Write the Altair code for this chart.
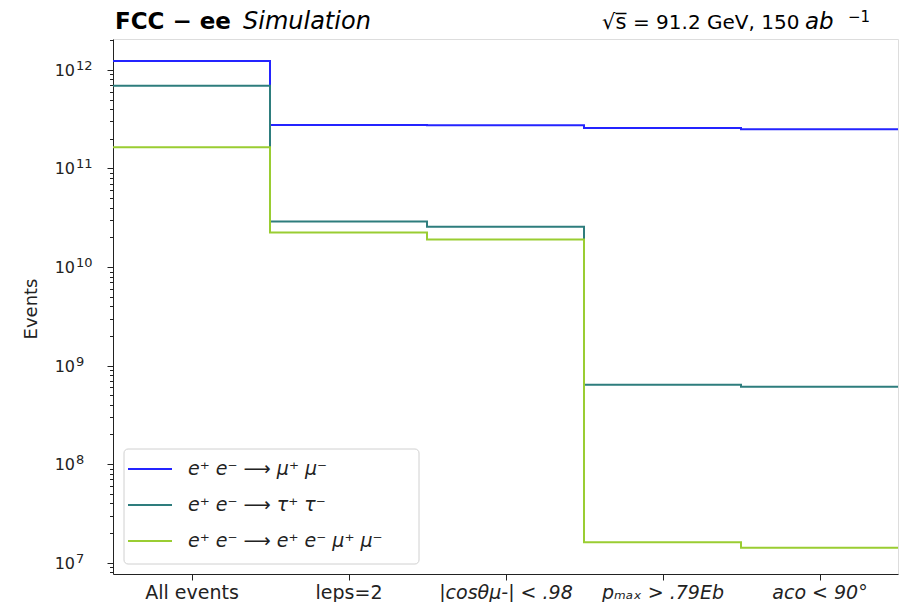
import altair as alt
import pandas as pd

# ---- data ----
cuts = ["All events", "leps=2", "|cosθμ-| < .98", "pₘₐₓ > .79Eb", "aco < 90°"]
series = ["e⁺ e⁻  ⟶  μ⁺ μ⁻", "e⁺ e⁻  ⟶  τ⁺ τ⁻", "e⁺ e⁻  ⟶  e⁺ e⁻ μ⁺ μ⁻"]
colors = ["#2424ff", "#2e7d7d", "#9acd32"]
mumu = [1.23e12, 2.77e11, 2.75e11, 2.58e11, 2.50e11]
tautau = [6.9e11, 2.9e10, 2.56e10, 6.4e8, 6.1e8]
eemumu = [1.64e11, 2.24e10, 1.9e10, 1.61e7, 1.42e7]
y_major = [1e7, 1e8, 1e9, 1e10, 1e11, 1e12]
y_exponents = ["7", "8", "9", "10", "11", "12"]

values = [mumu, tautau, eemumu]
rows = []
for name, vals in zip(series, values):
    for i, v in enumerate(vals):
        rows.append({"series": name, "x": i, "events": v})
    rows.append({"series": name, "x": len(vals), "events": vals[-1]})
df = pd.DataFrame(rows)
ylab = pd.DataFrame({"v": y_major, "base": ["10"] * len(y_major), "exp": y_exponents})

ymin, ymax = 7.68e6, 2.06e12
yticks = []
for e in range(6, 13):
    for k in range(1, 10):
        t = k * 10 ** e
        if ymin <= t <= ymax:
            yticks.append(t)

W, H = 785, 535
FONT = "DejaVu Sans"
INK = "#222222"

is_major = "abs(log(datum.value)/LN10 - round(log(datum.value)/LN10)) < 1e-6"
cut_arr = "[" + ",".join("'%s'" % s for s in cuts) + "]"

xscale = alt.Scale(domain=[0, 5], nice=False, zero=False)
yscale = alt.Scale(type="log", domain=[ymin, ymax], nice=False)

lines = alt.Chart(df).mark_line(interpolate="step-after", strokeWidth=2, clip=True).encode(
    x=alt.X("x:Q", scale=xscale,
            axis=alt.Axis(values=[0.5, 1.5, 2.5, 3.5, 4.5],
                          labelExpr=cut_arr + "[round(datum.value - 0.5)]",
                          labelFontStyle={"condition": {"test": "datum.value > 2", "value": "italic"}, "value": "normal"},
                          title=None, grid=False, labelFontSize=19, labelFont=FONT,
                          labelColor=INK, tickColor=INK, tickSize=6, labelPadding=3,
                          domainColor=INK, labelAngle=0)),
    y=alt.Y("events:Q", scale=yscale,
            axis=alt.Axis(values=yticks, labels=False,
                          tickSize={"condition": {"test": is_major, "value": 6}, "value": 3.5},
                          title="Events", titleFont=FONT, titleFontSize=18, titleFontWeight="normal",
                          titleColor=INK, titleX=-82, titleY=269.5, titleBaseline="middle",
                          titleAlign="center", grid=False,
                          tickColor=INK, domainColor=INK)),
    color=alt.Color("series:N", scale=alt.Scale(domain=series, range=colors), legend=None),
    order="x:Q",
)

# y tick labels drawn through the y scale: "10" plus a raised exponent
ybase = alt.Chart(ylab).mark_text(font=FONT, fontSize=16, align="right", baseline="middle",
                                  color=INK, dy=1).encode(
    y=alt.Y("v:Q", scale=yscale), x=alt.value(-38), text="base:N")
yexp = alt.Chart(ylab).mark_text(font=FONT, fontSize=13, align="left", baseline="middle",
                                 color=INK, dy=-4).encode(
    y=alt.Y("v:Q", scale=yscale), x=alt.value(-37), text="exp:N")

one = alt.Data(values=[{}])

def txt(s, x, y, size, weight="normal", style="normal", align="left", color="#000000"):
    return alt.Chart(one).mark_text(text=s, font=FONT, fontSize=size, fontWeight=weight,
                                    fontStyle=style, align=align, baseline="alphabetic",
                                    color=color).encode(x=alt.value(x), y=alt.value(y))

layers = [lines, ybase, yexp,
          txt("FCC − ee", 2, -10, 23, weight="bold"),
          txt("Simulation", 130, -10, 24, style="italic"),
          txt("√s̅", 489, -10, 21),
          txt("= 91.2 GeV, 150", 520, -10, 20),
          txt("ab", 692, -10, 23, style="italic"),
          txt("−1", 735, -17, 15)]

# legend box
layers.append(alt.Chart(one).mark_rect(fill="white", fillOpacity=0.85, stroke="#d0d0d0",
                                       strokeWidth=1, cornerRadius=4).encode(
    x=alt.value(11), x2=alt.value(306), y=alt.value(410), y2=alt.value(525)))
for i, (name, col) in enumerate(zip(series, colors)):
    yy = 430 + i * 36
    layers.append(alt.Chart(one).mark_rule(color=col, strokeWidth=2).encode(
        x=alt.value(15), x2=alt.value(59), y=alt.value(yy)))
    layers.append(alt.Chart(one).mark_text(text=name, font=FONT, fontSize=19, fontStyle="italic",
                                           align="left", baseline="middle", color=INK).encode(
        x=alt.value(75), y=alt.value(yy)))

chart = alt.layer(*layers).properties(
    width=W, height=H, autosize="none",
    padding={"left": 105, "top": 31, "right": 12, "bottom": 28},
).configure_view(stroke=INK, strokeWidth=1.2).configure(background="white")

chart.save("out.html", embed_options={"renderer": "svg", "actions": False})
